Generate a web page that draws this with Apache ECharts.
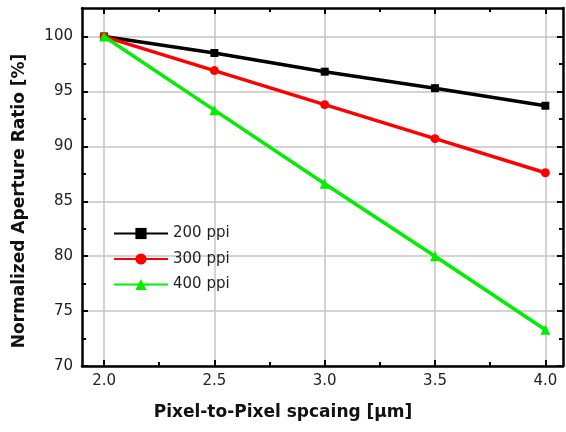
<!DOCTYPE html>
<html>
<head>
<meta charset="utf-8">
<script src="https://cdn.jsdelivr.net/npm/echarts@6/dist/echarts.min.js"></script>
<style>html,body{margin:0;padding:0;background:#fff;}#c{width:566px;height:432px;}</style>
</head>
<body>
<div id="c"></div>
<script>
const xValues = [2.0, 2.5, 3.0, 3.5, 4.0];
const ppi200 = [100, 98.5, 96.8, 95.3, 93.7];
const ppi300 = [100, 96.9, 93.8, 90.7, 87.6];
const ppi400 = [100, 93.3, 86.6, 80.0, 73.3];
const seriesNames = ['200 ppi', '300 ppi', '400 ppi'];
const xTicks = [2.0, 2.5, 3.0, 3.5, 4.0];
const xMinorTicks = [2.25, 2.75, 3.25, 3.75];
const yTicks = [70, 75, 80, 85, 90, 95, 100];
const yMinorTicks = [72.5, 77.5, 82.5, 87.5, 92.5, 97.5];
const xTitle = 'Pixel-to-Pixel spcaing [\u03bcm]';
const yTitle = 'Normalized Aperture Ratio [%]';

const FONT = 'DejaVu Sans';
const X_MIN = 1.9, X_MAX = 4.08, Y_MIN = 70, Y_MAX = 102.6;
const gridRect = {left: 82, top: 8, width: 481, height: 358};

function pairs(ys) { return xValues.map((x, i) => [x, ys[i]]); }

function xAx(grid, pos, ticks, len, showLabel, showLine, showSplit) {
  return {
    type: 'value', gridIndex: grid, position: pos, min: X_MIN, max: X_MAX,
    axisLine: {show: showLine, onZero: false, lineStyle: {color: '#000', width: 2.5}},
    axisTick: {show: true, inside: true, length: len, customValues: ticks, lineStyle: {color: '#000', width: 2}},
    axisLabel: {show: showLabel, customValues: ticks, formatter: v => v.toFixed(1), color: '#222', fontFamily: FONT, fontSize: 15, margin: 8},
    splitLine: {show: showSplit, lineStyle: {color: '#c4c4c4', width: 1.5}},
    minorTick: {show: false}
  };
}
function yAx(grid, pos, ticks, len, showLabel, showLine, showSplit) {
  return {
    type: 'value', gridIndex: grid, position: pos, min: Y_MIN, max: Y_MAX,
    axisLine: {show: showLine, onZero: false, lineStyle: {color: '#000', width: 2.5}},
    axisTick: {show: true, inside: true, length: len, customValues: ticks, lineStyle: {color: '#000', width: 2}},
    axisLabel: {show: showLabel, customValues: ticks, color: '#222', fontFamily: FONT, fontSize: 15, margin: 9},
    splitLine: {show: showSplit, lineStyle: {color: '#c4c4c4', width: 1.5}},
    minorTick: {show: false}
  };
}

const colors = ['#000000', '#ff0000', '#00ee00'];
const symbols = ['rect', 'circle', 'triangle'];
const sizes = [8, 9, 10];
const data = [ppi200, ppi300, ppi400];

const chart = echarts.init(document.getElementById('c'), null, {renderer: 'canvas'});
chart.setOption({
  animation: false,
  backgroundColor: '#fff',
  grid: [Object.assign({}, gridRect), Object.assign({}, gridRect)],
  xAxis: [
    xAx(0, 'bottom', xTicks, 6, true, true, true),
    xAx(0, 'top', xTicks, 6, false, true, false),
    xAx(1, 'bottom', xMinorTicks, 4, false, false, false),
    xAx(1, 'top', xMinorTicks, 4, false, false, false)
  ],
  yAxis: [
    yAx(0, 'left', yTicks, 6, true, true, true),
    yAx(0, 'right', yTicks, 6, false, true, false),
    yAx(1, 'left', yMinorTicks, 4, false, false, false),
    yAx(1, 'right', yMinorTicks, 4, false, false, false)
  ],
  legend: {
    orient: 'vertical', left: 108, top: 221,
    itemWidth: 54, itemHeight: 14, itemGap: 10.5,
    textStyle: {fontFamily: FONT, fontSize: 15, color: '#222'},
    data: seriesNames
  },
  series: seriesNames.map((n, i) => ({
    name: n, type: 'line', xAxisIndex: 0, yAxisIndex: 0,
    data: pairs(data[i]),
    symbol: symbols[i], symbolSize: sizes[i], showSymbol: true,
    lineStyle: {color: colors[i], width: 3.5},
    itemStyle: {color: colors[i]},
    z: 3 + i
  })),
  graphic: [
    {type: 'text', left: 'center', top: 404,
     style: {text: xTitle, font: 'bold 17px "DejaVu Sans"', fill: '#111'},
     x: 0},
    {type: 'text', rotation: Math.PI / 2, x: 20, y: 201,
     style: {text: yTitle, font: 'bold 17px "DejaVu Sans"', fill: '#111', align: 'center', verticalAlign: 'middle'}}
  ]
});
</script>
</body>
</html>
